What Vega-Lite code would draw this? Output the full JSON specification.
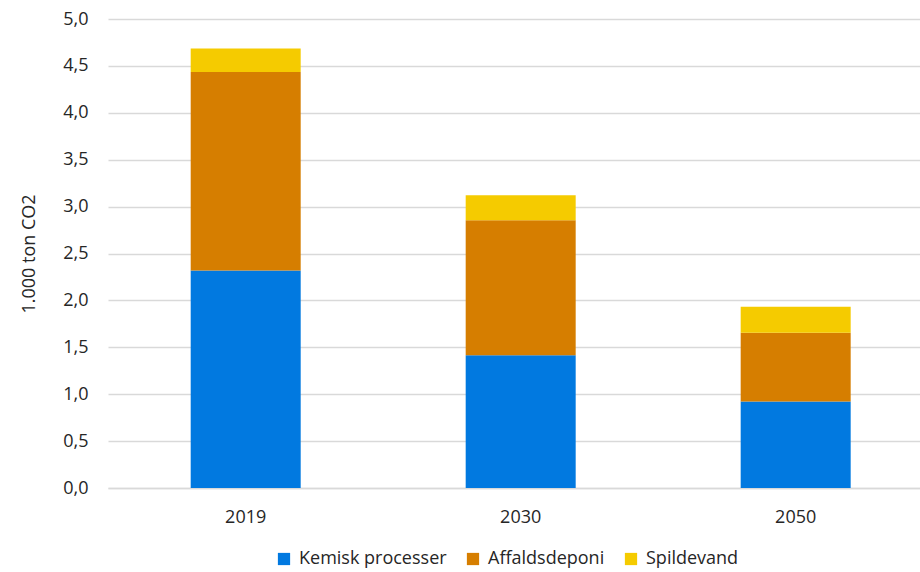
{
  "$schema": "https://vega.github.io/schema/vega-lite/v6.json",
  "width": 812,
  "height": 469,
  "autosize": {"type": "none"},
  "padding": {"left": 108, "top": 19, "right": 0, "bottom": 84},
  "background": "white",
  "config": {
    "view": {"stroke": null},
    "font": "Open Sans",
    "axis": {"labelFont": "Open Sans", "titleFont": "Open Sans", "labelColor": "#262626", "titleColor": "#262626"},
    "legend": {"labelFont": "Open Sans", "labelColor": "#262626"}
  },
  "data": {
    "values": [
      {"year": "2019", "kilde": "Kemisk processer", "ord": 1, "value": 2.32},
      {"year": "2019", "kilde": "Affaldsdeponi", "ord": 2, "value": 2.115},
      {"year": "2019", "kilde": "Spildevand", "ord": 3, "value": 0.25},
      {"year": "2030", "kilde": "Kemisk processer", "ord": 1, "value": 1.415},
      {"year": "2030", "kilde": "Affaldsdeponi", "ord": 2, "value": 1.44},
      {"year": "2030", "kilde": "Spildevand", "ord": 3, "value": 0.265},
      {"year": "2050", "kilde": "Kemisk processer", "ord": 1, "value": 0.922},
      {"year": "2050", "kilde": "Affaldsdeponi", "ord": 2, "value": 0.733},
      {"year": "2050", "kilde": "Spildevand", "ord": 3, "value": 0.278}
    ]
  },
  "mark": {"type": "bar"},
  "encoding": {
    "x": {
      "field": "year", "type": "nominal", "title": null,
      "scale": {"paddingInner": 0.6, "paddingOuter": 0.2764, "align": 0.544},
      "axis": {"labelAngle": 0, "labelFontSize": 18, "ticks": false, "domainColor": "#d9d9d9", "domainWidth": 1.5, "labelPadding": 20}
    },
    "y": {
      "field": "value", "type": "quantitative", "stack": "zero",
      "title": "1.000 ton CO2",
      "scale": {"domain": [0, 5]},
      "axis": {
        "values": [0, 0.5, 1, 1.5, 2, 2.5, 3, 3.5, 4, 4.5, 5],
        "labelExpr": "replace(format(datum.value, '.1f'), '.', ',')",
        "labelFontSize": 18, "ticks": false, "domain": false,
        "gridColor": "#d9d9d9", "gridWidth": 1.5,
        "labelPadding": 20, "titleFontSize": 18, "titleFontWeight": "normal", "titlePadding": 24
      }
    },
    "color": {
      "field": "kilde", "type": "nominal",
      "scale": {"domain": ["Kemisk processer", "Affaldsdeponi", "Spildevand"], "range": ["#0179E0", "#D67E00", "#F5CB00"]},
      "legend": {
        "title": null, "orient": "none", "direction": "horizontal",
        "legendX": 167, "legendY": 531,
        "symbolType": "square", "symbolSize": 150, "symbolStrokeWidth": 0,
        "labelFontSize": 18, "columnPadding": 17, "labelOffset": 6
      }
    },
    "order": {"field": "ord", "type": "quantitative"}
  }
}
